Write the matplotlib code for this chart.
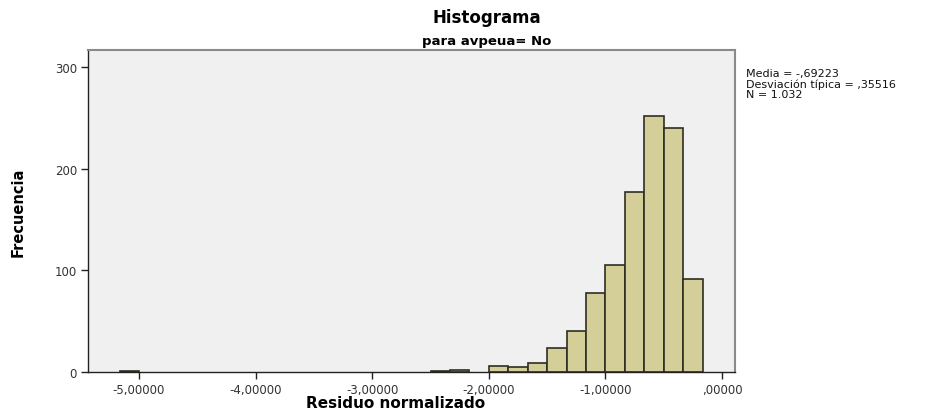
import numpy as np
import matplotlib
matplotlib.use('Agg')
import matplotlib.pyplot as plt
from matplotlib.ticker import FixedLocator

# histogram of standardized residuals (SPSS style)
bin_start = -5.0 - 1.0 / 6
bin_width = 1.0 / 6
counts = [1, 0, 0, 0, 0, 0, 0, 0, 0, 0,
          0, 0, 0, 0, 0, 0, 1, 2, 0, 6,
          5, 9, 24, 40, 78, 105, 177, 252, 240, 92]
xticks = [-5, -4, -3, -2, -1, 0]
xtick_labels = ['-5,00000', '-4,00000', '-3,00000', '-2,00000', '-1,00000', ',00000']
yticks = [0, 100, 200, 300]
stats_lines = ['Media = -,69223', 'Desviación típica = ,35516', 'N = 1.032']

plt.rcParams['font.family'] = ['DejaVu Sans']

fig = plt.figure(figsize=(9.51, 4.10), dpi=100)
W, H = 951, 410
ax = fig.add_axes([88 / W, 1 - 373 / H, (735 - 88) / W, (373 - 51) / H])
ax.set_facecolor('#f0f0f0')

counts = np.array(counts)
lefts = bin_start + bin_width * np.arange(len(counts))
keep = counts > 0  # empty bins draw nothing
ax.bar(lefts[keep], counts[keep], width=bin_width, align='edge', color='#d4cf98',
       edgecolor='#2e2e22', linewidth=1.2, zorder=2)

ax.set_xlim(-5.437, 0.111)
ax.set_ylim(0, 317)

ax.xaxis.set_major_locator(FixedLocator(xticks))
ax.set_xticklabels(xtick_labels)
ax.set_yticks(yticks)
ax.tick_params(axis='both', direction='out', length=5, width=1, color='#222222',
               labelsize=8.5, labelcolor='#333333', pad=3)

for s in ['left', 'bottom']:
    ax.spines[s].set_color('#222222')
    ax.spines[s].set_linewidth(1)
for s in ['top', 'right']:
    ax.spines[s].set_color('#8a8a8a')
    ax.spines[s].set_linewidth(1.5)

fig.text(487 / W, 1 - 18 / H, 'Histograma', ha='center', va='center',
         fontsize=12, fontweight='bold')
fig.text(487 / W, 1 - 42 / H, 'para avpeua= No', ha='center', va='center',
         fontsize=9.5, fontweight='bold')
fig.text(396 / W, 1 - 404 / H, 'Residuo normalizado', ha='center', va='center',
         fontsize=11, fontweight='bold')
fig.text(18 / W, 1 - 212 / H, 'Frecuencia', ha='center', va='center',
         rotation=90, fontsize=10.5, fontweight='bold')

for i, line in enumerate(stats_lines):
    fig.text(746 / W, 1 - (74 + i * 10.5) / H, line, ha='left', va='center',
             fontsize=8, color='#111111')

fig.savefig('out.png', dpi=100, facecolor='white')
